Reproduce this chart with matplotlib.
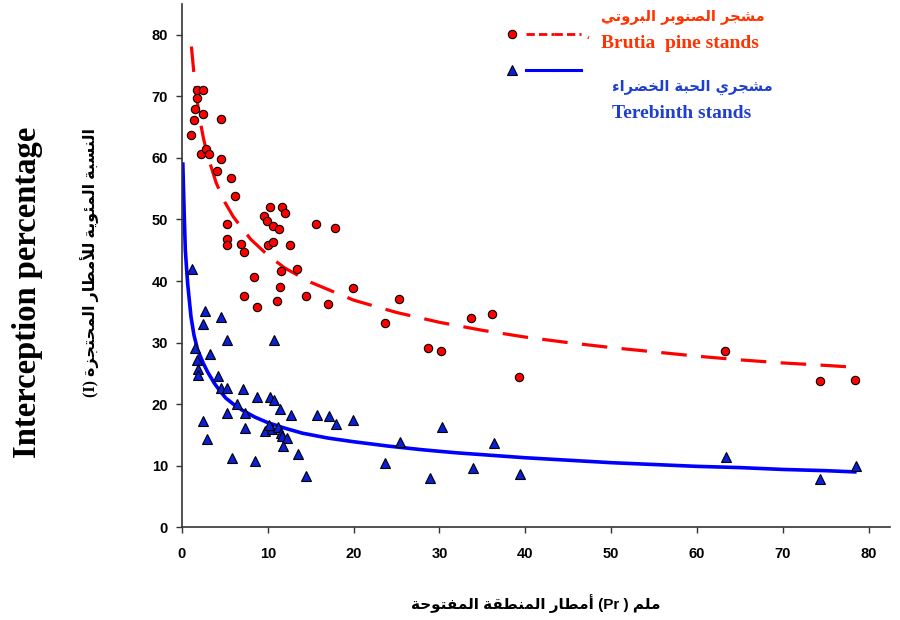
import numpy as np
import matplotlib
matplotlib.use("Agg")
import matplotlib.pyplot as plt
from matplotlib.lines import Line2D
from matplotlib.legend_handler import HandlerTuple

# Brutia pine stands (red circles)
pine_x = [1.0, 1.7, 2.5, 1.7, 1.55, 1.4, 2.4, 4.5, 2.2, 2.8, 3.2, 4.5, 4.1, 5.7, 6.2,
          5.2, 5.2, 5.2, 6.9, 7.2, 9.5, 9.9, 10.3, 11.6, 12.0, 10.6, 11.3, 10.0, 10.6,
          12.6, 15.6, 17.8, 11.5, 13.4, 8.4, 11.4, 19.9, 7.2, 11.1, 14.4, 17.0, 8.7,
          25.3, 23.6, 28.7, 30.2, 33.7, 36.1, 39.3, 63.3, 74.3, 78.4]
pine_y = [63.7, 71.1, 71.1, 69.7, 68.0, 66.1, 67.1, 66.4, 60.6, 61.4, 60.7, 59.9, 57.8, 56.7, 53.8,
          49.2, 46.8, 45.9, 46.1, 44.7, 50.6, 49.8, 52.1, 52.0, 51.1, 48.9, 48.4, 45.8, 46.3,
          45.9, 49.2, 48.7, 41.7, 42.0, 40.7, 39.0, 38.9, 37.6, 36.8, 37.5, 36.3, 35.8,
          37.1, 33.2, 29.1, 28.7, 34.0, 34.6, 24.4, 28.6, 23.8, 24.0]

# Terebinth stands (blue triangles)
tere_x = [1.16, 2.7, 4.6, 2.4, 5.2, 10.7, 1.55, 3.3, 1.75, 1.9, 1.9, 4.2, 4.6, 5.3, 7.1,
          8.7, 10.2, 10.7, 6.4, 11.4, 5.3, 7.3, 12.7, 15.7, 17.1, 19.9, 18.0, 2.5, 7.3,
          9.7, 10.5, 10.1, 11.2, 11.5, 11.7, 12.2, 11.8, 2.9, 13.5, 5.8, 8.5, 14.5,
          30.3, 25.4, 36.3, 23.7, 33.9, 28.9, 39.4, 63.4, 74.4, 78.5]
tere_y = [42.0, 35.1, 34.2, 33.0, 30.4, 30.4, 29.1, 28.1, 27.2, 25.7, 24.7, 24.6, 22.7, 22.7, 22.4,
          21.1, 21.2, 20.6, 20.1, 19.2, 18.5, 18.5, 18.3, 18.2, 18.1, 17.5, 16.8, 17.3, 16.2,
          15.6, 15.9, 16.6, 16.3, 15.3, 14.8, 14.5, 13.2, 14.3, 11.9, 11.2, 10.7, 8.3,
          16.3, 13.8, 13.7, 10.4, 9.7, 8.0, 8.7, 11.4, 7.9, 10.0]

# fitted curves
pine_fit_x = [1.1, 1.5, 2, 2.5, 3, 4, 5, 6, 8, 10, 12, 15, 20, 25, 30, 35, 40, 45, 50,
              55, 60, 65, 70, 75, 78.4]
pine_fit_y = [78.1, 72.1, 66.9, 63.2, 60.3, 55.9, 52.8, 50.4, 46.8, 44.2, 42.1, 39.8, 36.9,
              34.9, 33.3, 32.0, 30.9, 30.0, 29.2, 28.5, 27.8, 27.2, 26.7, 26.3, 26.0]
tere_fit_x = [0.1, 0.27, 0.39, 0.66, 1.05, 1.4, 1.83, 2.5, 3.0, 3.77, 4.4, 5.1, 6, 7.05,
              8.5, 10, 12, 14, 17, 20, 24, 28, 32, 36, 40, 45, 50, 55, 60, 65, 70, 75, 78.4]
tere_fit_y = [59.0, 50.4, 45.0, 39.6, 34.2, 31.2, 28.8, 26.6, 25.2, 23.4, 22.2, 21.0, 20.0,
              19.0, 17.9, 17.0, 16.1, 15.3, 14.5, 13.9, 13.2, 12.6, 12.1, 11.7, 11.3, 10.9,
              10.5, 10.2, 9.9, 9.7, 9.4, 9.2, 9.0]

xticks = [0, 10, 20, 30, 40, 50, 60, 70, 80]
yticks = [0, 10, 20, 30, 40, 50, 60, 70, 80]

# --- tiny arabic shaper (matplotlib has no text shaping) ---
DUAL = {'ئ': 0xFE89, 'ب': 0xFE8F, 'ت': 0xFE95, 'ث': 0xFE99, 'ج': 0xFE9D, 'ح': 0xFEA1,
        'خ': 0xFEA5, 'س': 0xFEB1, 'ش': 0xFEB5, 'ص': 0xFEB9, 'ض': 0xFEBD, 'ط': 0xFEC1,
        'ظ': 0xFEC5, 'ع': 0xFEC9, 'غ': 0xFECD, 'ف': 0xFED1, 'ق': 0xFED5, 'ك': 0xFED9,
        'ل': 0xFEDD, 'م': 0xFEE1, 'ن': 0xFEE5, 'ه': 0xFEE9, 'ي': 0xFEF1}
RIGHT = {'آ': 0xFE81, 'أ': 0xFE83, 'ؤ': 0xFE85, 'إ': 0xFE87, 'ا': 0xFE8D, 'ة': 0xFE93,
         'د': 0xFEA9, 'ذ': 0xFEAB, 'ر': 0xFEAD, 'ز': 0xFEAF, 'و': 0xFEED, 'ى': 0xFEEF}
LAM_ALEF = {'آ': 0xFEF5, 'أ': 0xFEF7, 'إ': 0xFEF9, 'ا': 0xFEFB}


def ar(s):
    toks = []
    i = 0
    while i < len(s):
        if s[i] == 'ل' and i + 1 < len(s) and s[i + 1] in LAM_ALEF:
            toks.append(('LA', s[i + 1]))
            i += 2
        else:
            toks.append(('C', s[i]))
            i += 1

    def kind(t):
        if t is None:
            return None
        if t[0] == 'LA':
            return 'R'
        if t[1] in DUAL:
            return 'D'
        if t[1] in RIGHT:
            return 'R'
        if t[1] == 'ء':
            return 'N'
        return None

    out = []
    for k, t in enumerate(toks):
        prev = toks[k - 1] if k > 0 else None
        nxt = toks[k + 1] if k + 1 < len(toks) else None
        kd = kind(t)
        jp = kd in ('D', 'R') and kind(prev) == 'D'
        jn = kd == 'D' and kind(nxt) in ('D', 'R')
        if t[0] == 'LA':
            out.append(chr(LAM_ALEF[t[1]] + (1 if jp else 0)))
        elif kd == 'D':
            out.append(chr(DUAL[t[1]] + (3 if jp and jn else 1 if jp else 2 if jn else 0)))
        elif kd == 'R':
            out.append(chr(RIGHT[t[1]] + (1 if jp else 0)))
        elif kd == 'N':
            out.append(chr(0xFE80))
        else:
            out.append(t[1])
    return ''.join(reversed(out))


pine_col = '#ff0000'
tere_col = '#0000ff'
red_txt = '#ff3300'
blue_txt = '#1f3fd0'

fig = plt.figure(figsize=(9, 6.2), dpi=100)
ax = fig.add_axes([0.2022, 0.1495, 0.7867, 0.844])

ax.plot(pine_fit_x, pine_fit_y, color=pine_col, lw=2.3, dashes=(8, 4.5), zorder=2)
ax.plot(tere_fit_x, tere_fit_y, color=tere_col, lw=2.6, zorder=2)
ax.plot(pine_x, pine_y, 'o', ms=6, mfc=pine_col, mec='black', mew=0.8, zorder=3)
ax.plot(tere_x, tere_y, '^', ms=7, mfc='#0a1fd8', mec='black', mew=0.8, zorder=3)

ax.set_xlim(0, 82.5)
ax.set_ylim(0, 85)
ax.set_xticks(xticks)
ax.set_yticks(yticks)
for s in ['top', 'right']:
    ax.spines[s].set_visible(False)
for s in ['left', 'bottom']:
    ax.spines[s].set_color('#333333')
    ax.spines[s].set_linewidth(1.2)
ax.tick_params(axis='both', direction='out', length=4, width=1, color='#333333',
               labelsize=10.5)
ax.tick_params(axis='x', pad=10)
ax.tick_params(axis='y', pad=6)
for lab in ax.get_xticklabels() + ax.get_yticklabels():
    lab.set_fontweight('bold')
    lab.set_family('Liberation Sans')

xlab = ar('أمطار المنطقة المفتوحة') + ' (Pr ) ' + ar('ملم')
ax.set_xlabel(xlab, family=['Liberation Sans', 'DejaVu Sans'], fontweight='bold',
              fontsize=11, labelpad=24)

fig.text(0.031, 0.529, 'Interception percentage', rotation=90, ha='center', va='center',
         family='Liberation Serif', fontweight='bold', fontsize=23.5)
fig.text(0.1, 0.577, '(I) ' + ar('النسبة المئوية للأمطار المحتجزة'), rotation=90,
         ha='center', va='center', family=['Liberation Serif', 'DejaVu Sans'],
         fontweight='bold', fontsize=11.5)

# legend keys
pine_key = (Line2D([], [], ls='none', marker='o', ms=6, mfc=pine_col, mec='black', mew=0.8),
            Line2D([], [], color=pine_col, lw=2, dashes=(3, 1.5)),
            Line2D([], [], color=pine_col, lw=2, dashes=(3, 1.5)))
tere_key = (Line2D([], [], ls='none', marker='^', ms=6.5, mfc='#0a1fd8', mec='black', mew=0.8),
            Line2D([], [], color=tere_col, lw=2.2),
            Line2D([], [], color=tere_col, lw=2.2))
leg = ax.legend([pine_key, tere_key], ['،', ' '],
                handler_map={tuple: HandlerTuple(ndivide=None, pad=0)},
                loc='upper left', bbox_to_anchor=(498 / 900, 1 - 28 / 620),
                bbox_transform=fig.transFigure, frameon=False, borderpad=0,
                borderaxespad=0, handlelength=6, handletextpad=0.3, labelspacing=1.6,
                prop={'family': 'DejaVu Sans', 'size': 10})
leg.get_texts()[0].set_color(red_txt)

fig.text(601 / 900, 1 - 17 / 620, ar('مشجر الصنوبر البروتي'), color=red_txt,
         family='DejaVu Sans', fontweight='bold', fontsize=10.5, ha='left', va='center')
fig.text(601 / 900, 1 - 43 / 620, 'Brutia  pine stands', color=red_txt,
         family='Liberation Serif', fontweight='bold', fontsize=14, ha='left', va='center')
fig.text(612 / 900, 1 - 87 / 620, ar('مشجري الحبة الخضراء'), color=blue_txt,
         family='DejaVu Sans', fontweight='bold', fontsize=10.5, ha='left', va='center')
fig.text(612 / 900, 1 - 114 / 620, 'Terebinth stands', color=blue_txt,
         family='Liberation Serif', fontweight='bold', fontsize=14, ha='left', va='center')

plt.savefig('out.png', dpi=100)
plt.close()
